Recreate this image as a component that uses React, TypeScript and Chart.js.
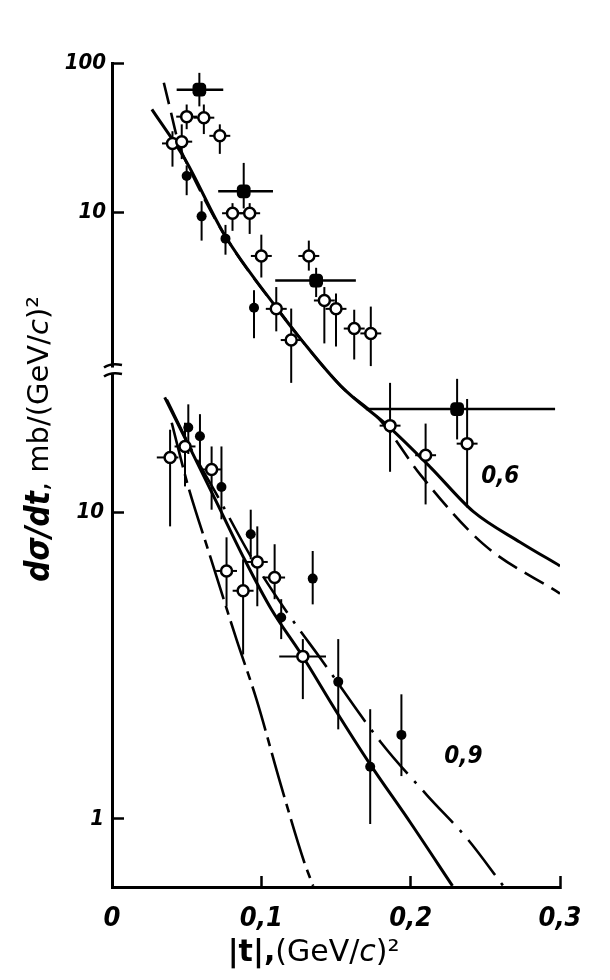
import React, { useEffect, useRef } from 'react';
import { Chart, registerables } from 'chart.js';

Chart.register(...registerables);

// ---------- axes ----------
const T_MIN = 0;
const T_MAX = 0.3;
const T_TICKS = [0, 0.1, 0.2, 0.3];
const T_TICK_LABELS = ['0', '0,1', '0,2', '0,3'];

const UPPER_MIN = 0.000349;
const UPPER_MAX = 100;
const UPPER_TICKS = [10, 100];
const UPPER_TICK_LABELS = ['10', '100'];

const LOWER_MIN = 0.605;
const LOWER_MAX = 292;
const LOWER_TICKS = [1, 10];
const LOWER_TICK_LABELS = ['1', '10'];

const BREAK_VALUE = 29; // lower-axis value where the axis break sits

// ---------- upper family (0,6) ----------
const U_OPEN_T = [0.0405, 0.0467, 0.05, 0.0615, 0.0722, 0.0807, 0.0922, 0.1, 0.1318, 0.11, 0.12, 0.1422, 0.15, 0.1622, 0.1733, 0.1862, 0.21, 0.2378];
const U_OPEN_Y = [28.9, 29.7, 43.7, 43.0, 32.5, 9.84, 9.84, 5.09, 5.09, 2.25, 1.39, 2.56, 2.25, 1.66, 1.54, 0.371, 0.235, 0.281];
const U_OPEN_HI = [34.9, 38.8, 52.7, 52.7, 38.8, 11.5, 11.5, 7.07, 6.45, 3.15, 2.26, 3.15, 2.85, 2.22, 2.33, 0.718, 0.383, 0.56];
const U_OPEN_LO = [20.2, 22.7, 36.0, 33.4, 24.6, 7.5, 7.15, 3.65, 4.06, 1.59, 0.718, 1.32, 1.26, 1.03, 0.93, 0.182, 0.11, 0.105];
const U_OPEN_TERR = 0.007;

const U_FILL_T = [0.05, 0.06, 0.076, 0.0951];
const U_FILL_Y = [17.5, 9.38, 6.65, 2.29];
const U_FILL_HI = [20.6, 11.85, 8.22, 3.0];
const U_FILL_LO = [13.0, 6.45, 5.19, 1.43];

const U_SQ_T = [0.0585, 0.0882, 0.1367, 0.2311];
const U_SQ_Y = [66.3, 13.8, 3.48, 0.479];
const U_SQ_HI = [85.9, 21.4, 4.24, 0.764];
const U_SQ_LO = [51.2, 10.6, 2.7, 0.3];
const U_SQ_TLO = [0.0433, 0.0711, 0.1093, 0.17];
const U_SQ_THI = [0.0745, 0.1078, 0.1633, 0.2967];

const U_SOLID_T = [0.0267, 0.0487, 0.0753, 0.1113, 0.1267, 0.1533, 0.186, 0.2133, 0.242, 0.2733, 0.3];
const U_SOLID_Y = [48.9, 22.8, 7.05, 2.21, 1.4, 0.683, 0.36, 0.195, 0.0984, 0.0614, 0.0426];

const U_DASH_T = [0.0347, 0.0387, 0.045, 0.0487, 0.0753, 0.1113, 0.1533, 0.18, 0.2067, 0.2487, 0.3];
const U_DASH_Y = [73.8, 50.4, 28, 22.8, 7.05, 2.21, 0.683, 0.4, 0.173, 0.0596, 0.0278];

// ---------- lower family (0,9) ----------
const L_OPEN_T = [0.0389, 0.0489, 0.0667, 0.0767, 0.0878, 0.0973, 0.1089, 0.1278];
const L_OPEN_Y = [15.1, 16.4, 13.8, 6.44, 5.55, 6.89, 6.13, 3.39];
const L_OPEN_HI = [18.6, 19.6, 16.4, 8.29, 7.03, 9.0, 7.87, 3.86];
const L_OPEN_LO = [9.0, 12.15, 10.2, 4.94, 3.44, 4.94, 5.21, 2.46];
const L_OPEN_TLO = [0.03, 0.0419, 0.0597, 0.0697, 0.0808, 0.0903, 0.1019, 0.112];
const L_OPEN_THI = [0.0445, 0.0559, 0.0737, 0.0837, 0.0948, 0.1043, 0.1159, 0.1433];

const L_FILL_T = [0.0511, 0.0589, 0.0733, 0.0929, 0.1344, 0.1133, 0.1515, 0.1729, 0.1938];
const L_FILL_Y = [18.9, 17.7, 12.1, 8.48, 6.08, 4.54, 2.8, 1.48, 1.88];
const L_FILL_HI = [22.5, 20.9, 16.4, 10.2, 7.48, 5.21, 3.86, 2.28, 2.55];
const L_FILL_LO = [15.5, 13.8, 9.49, 7.03, 5.01, 3.86, 1.96, 0.963, 1.38];

const L_SOLID_T = [0.0353, 0.0533, 0.07, 0.0887, 0.1067, 0.1267, 0.15, 0.172, 0.2, 0.228];
const L_SOLID_Y = [23.7, 15.8, 10.8, 7.03, 4.83, 3.45, 2.25, 1.53, 0.97, 0.605];

const L_DASHDOT_T = [0.0367, 0.0533, 0.072, 0.0933, 0.1167, 0.14, 0.18, 0.2113, 0.238, 0.262];
const L_DASHDOT_Y = [23.3, 16.0, 11.0, 7.13, 4.76, 3.32, 1.78, 1.19, 0.861, 0.605];

const L_LDASH_T = [0.04, 0.0507, 0.0653, 0.0833, 0.0967, 0.1133, 0.1287, 0.1347];
const L_LDASH_Y = [19.6, 12.3, 7.3, 3.86, 2.46, 1.28, 0.724, 0.605];

// ---------- curve labels ----------
const FAMILY_LABELS = [
  { text: '0,6', t: 0.26, value: 0.168, axis: 'yU' },
  { text: '0,9', t: 0.2353, value: 1.6, axis: 'yL' },
];

const FONT_COND = "'DejaVu Sans Condensed', 'DejaVu Sans', sans-serif";
const FONT_SANS = "'DejaVu Sans', 'Liberation Sans', sans-serif";
const Y_TICK_FONT = { family: FONT_COND, size: 22, style: 'italic', weight: 'bold' };

const xy = (t: number[], y: number[]) => t.map((v, i) => ({ x: v, y: y[i] }));

type ErrSet = {
  axis: string;
  t: number[];
  y: number[];
  lo: number[];
  hi: number[];
  tlo?: number[];
  thi?: number[];
  tErr?: number;
  hWidth: number;
};

const ERR_SETS: ErrSet[] = [
  { axis: 'yU', t: U_OPEN_T, y: U_OPEN_Y, lo: U_OPEN_LO, hi: U_OPEN_HI, tErr: U_OPEN_TERR, hWidth: 2 },
  { axis: 'yU', t: U_FILL_T, y: U_FILL_Y, lo: U_FILL_LO, hi: U_FILL_HI, hWidth: 2 },
  { axis: 'yU', t: U_SQ_T, y: U_SQ_Y, lo: U_SQ_LO, hi: U_SQ_HI, tlo: U_SQ_TLO, thi: U_SQ_THI, hWidth: 2.5 },
  { axis: 'yL', t: L_OPEN_T, y: L_OPEN_Y, lo: L_OPEN_LO, hi: L_OPEN_HI, tlo: L_OPEN_TLO, thi: L_OPEN_THI, hWidth: 2 },
  { axis: 'yL', t: L_FILL_T, y: L_FILL_Y, lo: L_FILL_LO, hi: L_FILL_HI, hWidth: 2 },
];

const errorBarPlugin = {
  id: 'errorBars',
  beforeDatasetsDraw(chart: any) {
    const { ctx, scales } = chart;
    const xs = scales.x;
    ctx.save();
    ctx.strokeStyle = '#000';
    for (const s of ERR_SETS) {
      const ys = scales[s.axis];
      s.t.forEach((t, i) => {
        const px = xs.getPixelForValue(t);
        const py = ys.getPixelForValue(s.y[i]);
        ctx.lineWidth = 2;
        ctx.beginPath();
        ctx.moveTo(px, ys.getPixelForValue(s.hi[i]));
        ctx.lineTo(px, ys.getPixelForValue(s.lo[i]));
        ctx.stroke();
        let t0: number | undefined;
        let t1: number | undefined;
        if (s.tlo && s.thi) {
          t0 = s.tlo[i];
          t1 = s.thi[i];
        } else if (s.tErr) {
          t0 = t - s.tErr;
          t1 = t + s.tErr;
        }
        if (t0 !== undefined && t1 !== undefined) {
          ctx.lineWidth = s.hWidth;
          ctx.beginPath();
          ctx.moveTo(xs.getPixelForValue(t0), py);
          ctx.lineTo(xs.getPixelForValue(t1), py);
          ctx.stroke();
        }
      });
    }
    ctx.restore();
  },
};

function drawRuns(ctx: CanvasRenderingContext2D, runs: { text: string; font: string }[], cx: number, cy: number) {
  let total = 0;
  const widths = runs.map((r) => {
    ctx.font = r.font;
    const w = ctx.measureText(r.text).width;
    total += w;
    return w;
  });
  let x = cx - total / 2;
  ctx.textAlign = 'left';
  ctx.textBaseline = 'middle';
  runs.forEach((r, i) => {
    ctx.font = r.font;
    ctx.fillText(r.text, x, cy);
    x += widths[i];
  });
}

const decorPlugin = {
  id: 'decor',
  afterDraw(chart: any) {
    const { ctx, chartArea, scales } = chart;
    const xs = scales.x;
    ctx.save();
    ctx.fillStyle = '#000';
    ctx.strokeStyle = '#000';

    // axis break
    const bx = chartArea.left;
    const by = scales.yL.getPixelForValue(BREAK_VALUE);
    ctx.fillStyle = '#fff';
    ctx.fillRect(bx - 3, by - 3, 6, 6);
    ctx.fillStyle = '#000';
    ctx.lineWidth = 2.5;
    for (const dy of [-4.5, 4.5]) {
      ctx.beginPath();
      ctx.moveTo(bx - 8, by + dy + 1.5);
      ctx.quadraticCurveTo(bx - 1, by + dy - 3.5, bx + 10, by + dy - 1);
      ctx.stroke();
    }

    // family labels
    ctx.font = `italic bold 24px ${FONT_COND}`;
    ctx.textAlign = 'center';
    ctx.textBaseline = 'middle';
    for (const l of FAMILY_LABELS) {
      ctx.fillText(l.text, xs.getPixelForValue(l.t), scales[l.axis].getPixelForValue(l.value));
    }

    // x title
    drawRuns(
      ctx,
      [
        { text: '|t|,', font: `bold 30px ${FONT_SANS}` },
        { text: '(GeV/', font: `30px ${FONT_SANS}` },
        { text: 'c', font: `italic 30px ${FONT_SANS}` },
        { text: ')²', font: `30px ${FONT_SANS}` },
      ],
      xs.getPixelForValue(0.135),
      chartArea.bottom + 66
    );

    // y title (rotated)
    ctx.save();
    ctx.translate(chartArea.left - 72, (chartArea.top + chartArea.bottom) / 2 - 36);
    ctx.rotate(-Math.PI / 2);
    drawRuns(
      ctx,
      [
        { text: 'dσ/dt', font: `italic bold 33px ${FONT_COND}` },
        { text: ', mb/(GeV/', font: `29px ${FONT_SANS}` },
        { text: 'c', font: `italic 29px ${FONT_SANS}` },
        { text: ')²', font: `29px ${FONT_SANS}` },
      ],
      0,
      0
    );
    ctx.restore();

    ctx.restore();
  },
};

function widestLabel(labels: string[]) {
  const c = document.createElement('canvas').getContext('2d');
  if (!c) return 28;
  c.font = `${Y_TICK_FONT.style} ${Y_TICK_FONT.weight} ${Y_TICK_FONT.size}px ${Y_TICK_FONT.family}`;
  return Math.max(...labels.map((l) => c.measureText(l).width));
}

export default function App() {
  const ref = useRef<HTMLCanvasElement>(null);

  useEffect(() => {
    if (!ref.current) return;
    Chart.defaults.color = '#000';
    // lower-axis labels are mirrored (the axis has no width of its own), so
    // shift them back to the left of the axis line, right-aligned like the upper ones
    const lowerPad = -8 - widestLabel(LOWER_TICK_LABELS);

    const openStyle = {
      pointStyle: 'circle',
      pointRadius: 5.5,
      pointBorderWidth: 2.5,
      pointBackgroundColor: '#fff',
      pointBorderColor: '#000',
      showLine: false,
      order: 0,
    };
    const fillStyle = {
      pointStyle: 'circle',
      pointRadius: 5,
      pointBorderWidth: 0,
      pointBackgroundColor: '#000',
      pointBorderColor: '#000',
      showLine: false,
      order: 0,
    };
    const squareStyle = {
      pointStyle: 'rectRounded',
      pointRadius: 8,
      pointBorderWidth: 0,
      pointBackgroundColor: '#000',
      pointBorderColor: '#000',
      showLine: false,
      order: 0,
    };
    const curve = (dash: number[], width: number) => ({
      showLine: true,
      pointRadius: 0,
      borderColor: '#000',
      borderWidth: width,
      borderDash: dash,
      cubicInterpolationMode: 'monotone',
      fill: false,
      order: 2,
    });

    const chart = new Chart(ref.current, {
      type: 'scatter',
      data: {
        datasets: [
          { label: '0,6 fit', data: xy(U_SOLID_T, U_SOLID_Y), yAxisID: 'yU', ...curve([], 3) },
          { label: '0,6 alt', data: xy(U_DASH_T, U_DASH_Y), yAxisID: 'yU', ...curve([22, 9], 2.6) },
          { label: '0,9 fit', data: xy(L_SOLID_T, L_SOLID_Y), yAxisID: 'yL', ...curve([], 3) },
          { label: '0,9 dash-dot', data: xy(L_DASHDOT_T, L_DASHDOT_Y), yAxisID: 'yL', ...curve([44, 10, 3, 10], 2.6) },
          { label: '0,9 long dash', data: xy(L_LDASH_T, L_LDASH_Y), yAxisID: 'yL', ...curve([46, 7, 9, 7], 2.6) },
          { label: '0,6 open', data: xy(U_OPEN_T, U_OPEN_Y), yAxisID: 'yU', ...openStyle },
          { label: '0,6 filled', data: xy(U_FILL_T, U_FILL_Y), yAxisID: 'yU', ...fillStyle },
          { label: '0,6 squares', data: xy(U_SQ_T, U_SQ_Y), yAxisID: 'yU', ...squareStyle },
          { label: '0,9 open', data: xy(L_OPEN_T, L_OPEN_Y), yAxisID: 'yL', ...openStyle },
          { label: '0,9 filled', data: xy(L_FILL_T, L_FILL_Y), yAxisID: 'yL', ...fillStyle },
        ] as any,
      },
      options: {
        animation: false,
        responsive: true,
        maintainAspectRatio: false,
        events: [],
        layout: { padding: { top: 63, right: 50, left: 0, bottom: 0 } },
        plugins: { legend: { display: false }, tooltip: { enabled: false } },
        scales: {
          x: {
            type: 'linear',
            min: T_MIN,
            max: T_MAX,
            afterBuildTicks: (s: any) => {
              s.ticks = T_TICKS.map((v) => ({ value: v }));
            },
            afterFit: (s: any) => {
              s.height = 93;
            },
            ticks: {
              padding: 27,
              autoSkip: false,
              maxRotation: 0,
              font: { family: FONT_COND, size: 27, style: 'italic', weight: 'bold' },
              callback: (_v: any, i: number) => T_TICK_LABELS[i],
            },
            grid: { drawOnChartArea: false, drawTicks: true, tickLength: -11, tickWidth: 2.5, tickColor: '#000' },
            border: { display: true, color: '#000', width: 3 },
          },
          yU: {
            type: 'logarithmic',
            position: 'left',
            weight: 1,
            min: UPPER_MIN,
            max: UPPER_MAX,
            afterBuildTicks: (s: any) => {
              s.ticks = UPPER_TICKS.map((v) => ({ value: v }));
            },
            afterFit: (s: any) => {
              s.width = 112;
            },
            ticks: {
              padding: 18,
              autoSkip: false,
              font: Y_TICK_FONT,
              callback: (_v: any, i: number) => UPPER_TICK_LABELS[i],
            },
            grid: { drawOnChartArea: false, drawTicks: true, tickLength: -12, tickWidth: 2.5, tickColor: '#000' },
            border: { display: false },
          },
          yL: {
            type: 'logarithmic',
            position: 'left',
            weight: 0,
            min: LOWER_MIN,
            max: LOWER_MAX,
            afterBuildTicks: (s: any) => {
              s.ticks = LOWER_TICKS.map((v) => ({ value: v }));
            },
            afterFit: (s: any) => {
              s.width = 0;
            },
            ticks: {
              mirror: true,
              crossAlign: 'far',
              padding: lowerPad,
              autoSkip: false,
              font: Y_TICK_FONT,
              callback: (_v: any, i: number) => LOWER_TICK_LABELS[i],
            },
            grid: { drawOnChartArea: false, drawTicks: true, tickLength: -12, tickWidth: 2.5, tickColor: '#000' },
            border: { display: true, color: '#000', width: 3 },
          },
        } as any,
      },
      plugins: [errorBarPlugin, decorPlugin],
    } as any);

    return () => chart.destroy();
  }, []);

  return (
    <div style={{ position: 'absolute', left: 0, top: 0, width: 610, height: 980, background: '#fff' }}>
      <canvas ref={ref} />
    </div>
  );
}
